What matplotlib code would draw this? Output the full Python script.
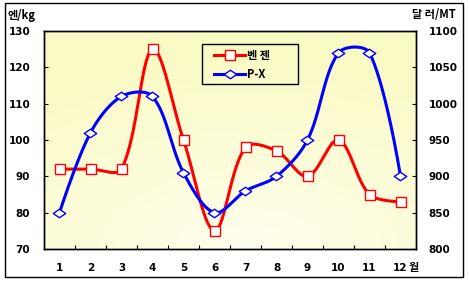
import numpy as np
import matplotlib
matplotlib.use("Agg")
import matplotlib.pyplot as plt
from matplotlib.path import Path
from matplotlib.patches import Rectangle
from matplotlib.lines import Line2D

months = [1, 2, 3, 4, 5, 6, 7, 8, 9, 10, 11, 12]
month_labels = ["1", "2", "3", "4", "5", "6", "7", "8", "9", "10", "11", "12"]
benzene = [92, 92, 92, 125, 100, 75, 98, 97, 90, 100, 85, 83]   # 엔/kg
px = [850, 960, 1010, 1010, 905, 850, 880, 900, 950, 1070, 1070, 900]  # 달러/MT

KFONT = ["Noto Sans CJK KR", "DejaVu Sans"]
plt.rcParams['font.family'] = KFONT


def smooth_display(axis, xs, ys, n=40):
    """Excel-like smoothed curve, computed in display space, returned in data space."""
    P = axis.transData.transform(np.column_stack([xs, ys]).astype(float))
    m = len(P)
    out = []
    for i in range(m - 1):
        p0 = P[i - 1] if i > 0 else P[i]
        p1 = P[i]
        p2 = P[i + 1]
        p3 = P[i + 2] if i + 2 < m else P[i + 1]
        d01 = np.hypot(*(p1 - p0))
        d12 = np.hypot(*(p2 - p1))
        d23 = np.hypot(*(p3 - p2))
        f1 = d12 / (d01 + d12) / 3.0 if d01 + d12 > 0 else 0
        f2 = d12 / (d12 + d23) / 3.0 if d12 + d23 > 0 else 0
        if i == 0:
            f1 = 0
        if i == m - 2:
            f2 = 0
        c1 = p1 + (p2 - p0) * f1
        c2 = p2 - (p3 - p1) * f2
        t = np.linspace(0, 1, n)[:, None]
        seg = ((1 - t) ** 3) * p1 + 3 * ((1 - t) ** 2) * t * c1 + 3 * (1 - t) * t ** 2 * c2 + t ** 3 * p2
        out.append(seg if i == 0 else seg[1:])
    s = axis.transData.inverted().transform(np.vstack(out))
    return s[:, 0], s[:, 1]


W, H = 469, 284
fig = plt.figure(figsize=(W / 100, H / 100), dpi=100)
fig.patch.set_facecolor("white")

fig.patches.append(Rectangle((5 / W, 1 - 277 / H), (463 - 5) / W, (277 - 3) / H,
                             transform=fig.transFigure, fill=False, edgecolor="black",
                             linewidth=1.0))

pos = [44 / W, 1 - 249 / H, (416 - 44) / W, (249 - 31) / H]

bg = fig.add_axes(pos, zorder=-1)
bg.axis("off")
gy, gx = np.mgrid[0:1:200j, 0:1:300j]
d = np.sqrt(((gx - 0.55) * 1.0) ** 2 + ((gy - 1.0) * 1.1) ** 2)
d = np.clip(d, 0, 1)
c_light = np.array([255, 255, 238]) / 255
c_dark = np.array([250, 250, 196]) / 255
img = c_light[None, None, :] * (1 - d[..., None]) + c_dark[None, None, :] * d[..., None]
bg.imshow(img, aspect="auto", extent=[0, 1, 0, 1], origin="upper")
bg.set_xlim(0, 1)
bg.set_ylim(0, 1)

ax = fig.add_axes(pos)
ax.patch.set_visible(False)
ax2 = ax.twinx()

ax.set_xlim(0.5, 12.5)
ax.set_ylim(70, 130)
ax2.set_xlim(0.5, 12.5)
ax2.set_ylim(800, 1100)

RED = "#FF0000"
BLUE = "#0000FF"
LW = 2.2

bx, by = smooth_display(ax, months, benzene)
ax.plot(bx, by, color=RED, linewidth=LW, solid_capstyle="round", zorder=2)
ax.plot(months, benzene, linestyle="none", marker="s", markersize=6.5,
        markerfacecolor="white", markeredgecolor=RED, markeredgewidth=1.0, zorder=3)

diamond = Path([(-1, 0), (0, 0.68), (1, 0), (0, -0.68), (-1, 0)],
               [Path.MOVETO, Path.LINETO, Path.LINETO, Path.LINETO, Path.CLOSEPOLY])
qx, qy = smooth_display(ax2, months, px)
ax2.plot(qx, qy, color=BLUE, linewidth=LW, solid_capstyle="round", zorder=2)
ax2.plot(months, px, linestyle="none", marker=diamond, markersize=9,
         markerfacecolor="white", markeredgecolor=BLUE, markeredgewidth=1.0, zorder=3)

ax.set_yticks(np.arange(70, 131, 10))
ax2.set_yticks(np.arange(800, 1101, 50))
ax.set_xticks(months)
ax.set_xticklabels(month_labels)
ax.set_xticks(np.arange(1.5, 12, 1), minor=True)

for lab in ax.get_xticklabels() + ax.get_yticklabels() + ax2.get_yticklabels():
    lab.set_fontfamily("DejaVu Sans")
    lab.set_fontweight("bold")
    lab.set_fontsize(7.5)

ax.tick_params(axis="x", which="major", length=0, pad=10)
ax.tick_params(axis="x", which="minor", direction="in", length=3, width=0.8)
ax.tick_params(axis="y", direction="in", length=3, width=0.8, pad=10)
ax2.tick_params(axis="y", direction="in", length=3, width=0.8, pad=9)
for a in (ax, ax2):
    for s in a.spines.values():
        s.set_linewidth(1.0)
        s.set_color("black")

fig.text(8 / W, 1 - 15 / H, "엔/kg", fontsize=8, fontweight="bold", family=KFONT,
         ha="left", va="center")
fig.text(456 / W, 1 - 15 / H, "달 러/MT", fontsize=8, fontweight="bold", family=KFONT,
         ha="right", va="center")
fig.text(409 / W, 1 - 267 / H, "월", fontsize=8, fontweight="bold", family=KFONT,
         ha="left", va="center")

# legend
hb_l = Line2D([0], [0], color=RED, linewidth=LW, marker="s", markersize=6.5,
              markerfacecolor="white", markeredgecolor=RED, markeredgewidth=1.0)
hp_l = Line2D([0], [0], color=BLUE, linewidth=LW, marker=diamond, markersize=9,
              markerfacecolor="white", markeredgecolor=BLUE, markeredgewidth=1.0)
lx0, lx1 = (202 - 44) / 372, (298 - 44) / 372
ly0, ly1 = (249 - 84) / 218, (249 - 44) / 218
leg = ax2.legend([hb_l, hp_l], ["벤 젠", "P-X"], loc="upper left",
                 bbox_to_anchor=((214 - 44) / 372, (249 - 49) / 218),
                 frameon=False, prop=dict(family=KFONT, weight="bold", size=8),
                 handlelength=2.8, handletextpad=0.2, borderpad=0.0,
                 labelspacing=0.5, borderaxespad=0)
ax2.add_patch(Rectangle((lx0, ly0), lx1 - lx0, ly1 - ly0, transform=ax2.transAxes,
                        fill=False, edgecolor="black", linewidth=1.0, zorder=5))

fig.savefig("out.png", dpi=100)
